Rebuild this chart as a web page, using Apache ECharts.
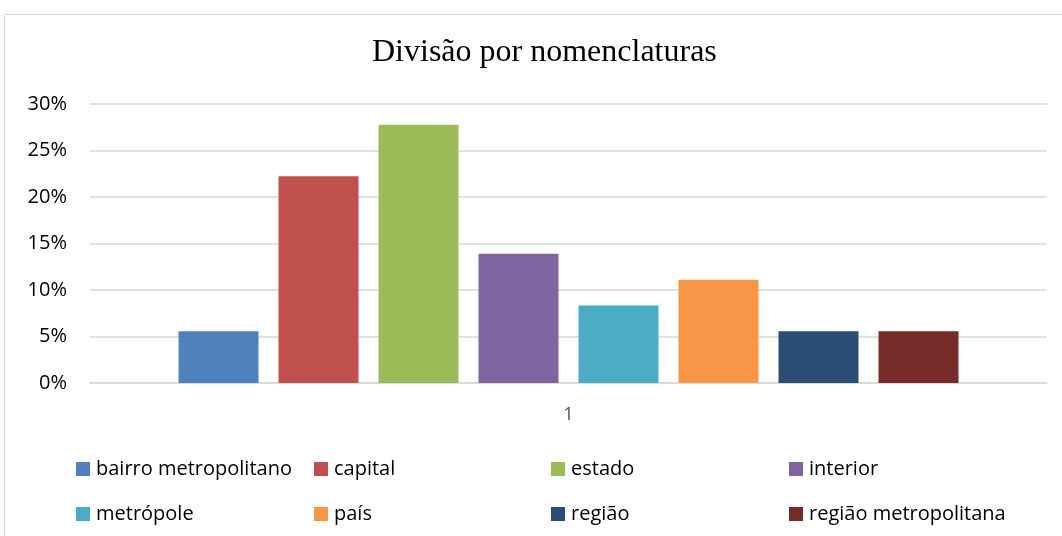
<!DOCTYPE html>
<html>
<head>
<meta charset="utf-8">
<script src="https://cdn.jsdelivr.net/npm/echarts@6/dist/echarts.min.js"></script>
<style>
  html, body { margin: 0; padding: 0; background: #fff; }
  #chart { width: 1062px; height: 536px; }
</style>
</head>
<body>
<div id="chart"></div>
<script>
// data
const categories = ['1'];
const seriesNames = ['bairro metropolitano', 'capital', 'estado', 'interior',
  'metrópole', 'país', 'região', 'região metropolitana'];
const seriesValues = [5.56, 22.22, 27.78, 13.89, 8.33, 11.11, 5.56, 5.56];
const yTicks = [0, 5, 10, 15, 20, 25, 30];

const colors = ['#4f81bd', '#c0504d', '#9bbb59', '#8064a2', '#4bacc6', '#f79646', '#2c4d75', '#772c2a'];
const font = '"Open Sans", sans-serif';

// legend laid out as 4 columns x 2 rows, like the original
const legendCols = [76, 314, 551, 789];
const legendRows = [459, 504];

const chart = echarts.init(document.getElementById('chart'));

chart.setOption({
  animation: false,
  color: colors,
  title: {
    text: 'Divisão por nomenclaturas',
    left: 372,
    top: 37,
    padding: 0,
    textStyle: {
      fontFamily: '"Liberation Serif", serif',
      fontSize: 32,
      fontWeight: 'normal',
      color: '#000'
    }
  },
  graphic: [{
    type: 'rect',
    shape: { x: 4.5, y: 14.5, width: 1100, height: 600 },
    style: { fill: 'none', stroke: '#d9d9d9', lineWidth: 1 },
    silent: true
  }],
  grid: {
    left: 90,
    right: 15,
    top: 104,
    bottom: 153
  },
  legend: seriesNames.map((name, i) => ({
    data: [name],
    left: legendCols[i % 4],
    top: legendRows[Math.floor(i / 4)],
    padding: 0,
    itemWidth: 14,
    itemHeight: 14,
    itemGap: 6,
    icon: 'rect',
    textStyle: { fontFamily: font, fontSize: 20, color: '#000', padding: [0, 0, 0, 1] }
  })),
  xAxis: {
    type: 'category',
    data: categories,
    axisTick: { show: false },
    axisLine: { lineStyle: { color: '#d9d9d9', width: 1.5 } },
    axisLabel: { fontFamily: font, fontSize: 19, color: '#595959', margin: 22 }
  },
  yAxis: {
    type: 'value',
    min: yTicks[0],
    max: yTicks[yTicks.length - 1],
    interval: 5,
    axisLine: { show: false },
    axisTick: { show: false },
    splitLine: { lineStyle: { color: '#d9d9d9', width: 1.5 } },
    axisLabel: {
      fontFamily: font, fontSize: 20, color: '#000', margin: 23,
      formatter: v => v + '%'
    }
  },
  series: seriesNames.map((name, i) => ({
    name: name,
    type: 'bar',
    data: [seriesValues[i]],
    barWidth: 80,
    barGap: '25%'
  }))
});
</script>
</body>
</html>
